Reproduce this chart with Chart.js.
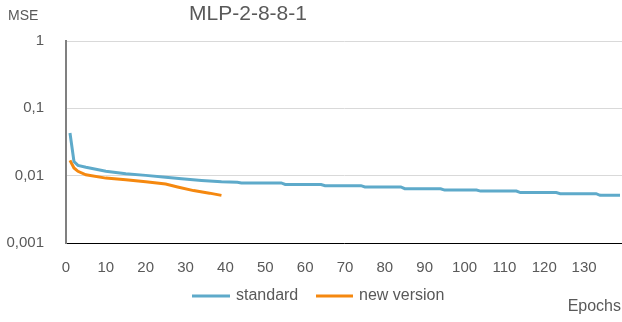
<!DOCTYPE html>
<html>
<head>
<meta charset="utf-8">
<script src="https://cdn.jsdelivr.net/npm/chart.js@4.4.1/dist/chart.umd.min.js"></script>
<style>
  html, body { margin: 0; padding: 0; background: #fff; }
  #wrap { width: 622px; height: 322px; }
</style>
</head>
<body>
<div id="wrap"><canvas id="mse"></canvas></div>
<script>
const seriesNames = ["standard", "new version"];
const stdEpochs = [1, 2, 3, 5, 10, 15, 20, 25, 29, 34, 39, 43, 44, 54, 55, 64, 65, 74, 75, 84, 85, 94, 95, 103, 104, 113, 114, 123, 124, 133, 134, 139];
const stdMse = [0.043, 0.0162, 0.0142, 0.0133, 0.0116, 0.0107, 0.0101, 0.0095, 0.0090, 0.0085, 0.0081, 0.0080, 0.0078, 0.0078, 0.0074, 0.0074, 0.0071, 0.0071, 0.0068, 0.0068, 0.0064, 0.0064, 0.0061, 0.0061, 0.0059, 0.0059, 0.0056, 0.0056, 0.0054, 0.0054, 0.0051, 0.0051];
const newEpochs = [1, 2, 3, 5, 10, 15, 20, 25, 28, 32, 36, 39];
const newMse = [0.0169, 0.0130, 0.0116, 0.0103, 0.0092, 0.0087, 0.0081, 0.0075, 0.0068, 0.0060, 0.0055, 0.0051];
const yTicks = [0.001, 0.01, 0.1, 1];
const yTickLabels = ["0,001", "0,01", "0,1", "1"];
const colors = ["#5EAACA", "#F5880F"];

const textColor = "#595959";
const fontFamily = "'Liberation Sans', Arial, sans-serif";

function toPoints(xs, ys) {
  return xs.map((x, i) => ({ x: x, y: ys[i] }));
}

// title, axis names and legend are drawn by hand to sit where the original has them
const extras = {
  id: "extras",
  afterDraw(chart) {
    const ctx = chart.ctx;
    ctx.save();
    ctx.fillStyle = textColor;
    ctx.textBaseline = "middle";

    ctx.font = "21px " + fontFamily;
    ctx.textAlign = "center";
    ctx.fillText("MLP-2-8-8-1", 248, 14);

    ctx.font = "14px " + fontFamily;
    ctx.textAlign = "left";
    ctx.fillText("MSE", 8, 16);

    ctx.font = "16px " + fontFamily;
    ctx.textAlign = "right";
    ctx.fillText("Epochs", 621, 307);

    const items = [[192, 230, 236], [316, 353, 359]];
    chart.data.datasets.forEach((ds, i) => {
      const it = items[i];
      ctx.strokeStyle = ds.borderColor;
      ctx.lineWidth = 3;
      ctx.beginPath();
      ctx.moveTo(it[0], 296);
      ctx.lineTo(it[1], 296);
      ctx.stroke();
      ctx.textAlign = "left";
      ctx.fillText(ds.label, it[2], 296);
    });
    ctx.restore();
  }
};

new Chart(document.getElementById("mse"), {
  type: "line",
  data: {
    datasets: [
      {
        label: seriesNames[0],
        data: toPoints(stdEpochs, stdMse),
        borderColor: colors[0],
        borderWidth: 3,
        pointRadius: 0,
        tension: 0
      },
      {
        label: seriesNames[1],
        data: toPoints(newEpochs, newMse),
        borderColor: colors[1],
        borderWidth: 3,
        pointRadius: 0,
        tension: 0
      }
    ]
  },
  options: {
    responsive: true,
    maintainAspectRatio: false,
    animation: false,
    layout: { padding: { top: 41, right: 0, bottom: 0, left: 0 } },
    plugins: {
      legend: { display: false },
      title: { display: false },
      tooltip: { enabled: false }
    },
    scales: {
      x: {
        type: "linear",
        min: 0,
        max: 139.5,
        ticks: {
          stepSize: 10,
          includeBounds: false,
          color: textColor,
          font: { family: fontFamily, size: 15 },
          padding: 16,
          maxRotation: 0,
          autoSkip: false
        },
        grid: { display: false, drawTicks: false },
        border: { color: "#000000", width: 1 },
        afterFit: scale => { scale.height = 79; }
      },
      y: {
        type: "logarithmic",
        min: 0.001,
        max: 1,
        afterBuildTicks: scale => {
          scale.ticks = yTicks.map(v => ({ value: v }));
        },
        ticks: {
          color: textColor,
          font: { family: fontFamily, size: 15 },
          padding: 22,
          callback: (v) => {
            const i = yTicks.findIndex(t => Math.abs(t - v) < t * 1e-6);
            return i >= 0 ? yTickLabels[i] : "";
          }
        },
        grid: { color: "#D9D9D9", lineWidth: 1, drawTicks: false },
        border: { color: "#808080", width: 2 },
        afterFit: scale => { scale.width = 66; }
      }
    }
  },
  plugins: [extras]
});
</script>
</body>
</html>
